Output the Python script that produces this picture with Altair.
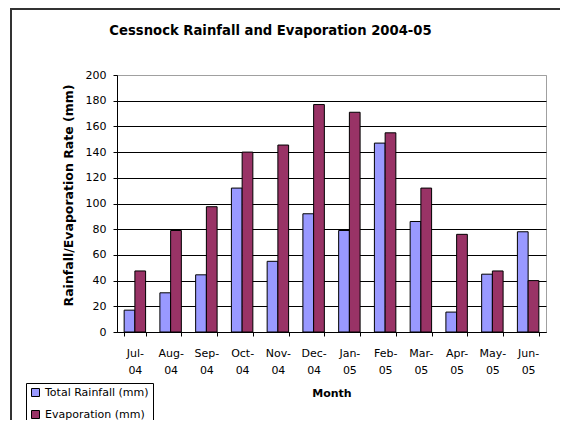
import altair as alt
import pandas as pd

months = ["Jul-04", "Aug-04", "Sep-04", "Oct-04", "Nov-04", "Dec-04",
          "Jan-05", "Feb-05", "Mar-05", "Apr-05", "May-05", "Jun-05"]
rainfall = [17, 30.5, 44.5, 112, 55, 92, 79, 147, 86, 15.5, 45, 78]
evaporation = [47.5, 79, 97.5, 140, 145.5, 177, 171, 155, 112, 76, 47.5, 40]
series = ["Total Rainfall (mm)", "Evaporation (mm)"]
colors = ["#9999FF", "#993366"]
y_ticks = [0, 20, 40, 60, 80, 100, 120, 140, 160, 180, 200]
title_text = "Cessnock Rainfall and Evaporation 2004-05"

rows = []
for i, m in enumerate(months):
    rows.append({"Month": m, "Series": series[0], "Value": rainfall[i]})
    rows.append({"Month": m, "Series": series[1], "Value": evaporation[i]})
df = pd.DataFrame(rows)

FONT = "DejaVu Sans"

bars = alt.Chart(df).mark_bar(stroke="black", strokeWidth=1).encode(
    x=alt.X("Month:N", sort=months,
            scale=alt.Scale(paddingInner=0.4, paddingOuter=0.2),
            axis=alt.Axis(
                title="Month", titleFontWeight="bold", titleFontSize=11,
                titleY=61, titleBaseline="middle",
                labelAngle=0, labelFontSize=11, labelPadding=11,
                labelLineHeight=17,
                labelExpr="[substring(datum.label,0,4), substring(datum.label,4)]",
                tickBand="extent", tickSize=4, tickColor="black",
                domainColor="black", labelColor="black", titleColor="black")),
    xOffset=alt.XOffset("Series:N", sort=series,
                        scale=alt.Scale(paddingInner=0, paddingOuter=0)),
    y=alt.Y("Value:Q", scale=alt.Scale(domain=[0, 200], nice=False),
            axis=alt.Axis(
                values=y_ticks, title="Rainfall/Evaporation Rate (mm)",
                titleFontWeight="bold", titleFontSize=12.5,
                titleX=-49, titleY=120, titleBaseline="middle",
                labelFontSize=11, labelPadding=7, tickSize=4,
                tickColor="black", domainColor="black",
                labelColor="black", titleColor="black",
                grid=True,
                gridColor={"condition": {"test": "datum.value === 200", "value": "#a0a0a0"},
                           "value": "black"},
                gridWidth=1)),
    color=alt.Color("Series:N", sort=series,
                    scale=alt.Scale(domain=series, range=colors),
                    legend=alt.Legend(
                        title=None, orient="none", legendX=-91, legendY=308,
                        symbolType="square", symbolSize=64,
                        symbolStrokeColor="black", symbolStrokeWidth=1,
                        labelFontSize=11, labelColor="black", labelOffset=4,
                        rowPadding=9, padding=4,
                        strokeColor="black", fillColor="white")),
)

one = pd.DataFrame({"a": [0]})
frame_top = alt.Chart(one).mark_rule(stroke="#333333", strokeWidth=2).encode(
    x=alt.value(-107), x2=alt.value(600), y=alt.value(-66))
frame_left = alt.Chart(one).mark_rule(stroke="#333333", strokeWidth=2).encode(
    x=alt.value(-106), y=alt.value(-67), y2=alt.value(500))

title = alt.Chart(pd.DataFrame({"t": [title_text]})).mark_text(
    font="DejaVu Sans", fontSize=13.2, fontWeight="bold", color="black",
    align="center", baseline="alphabetic"
).encode(text="t:N", x=alt.value(153.5), y=alt.value(-40))

chart = alt.layer(frame_top, frame_left, title, bars).properties(
    width=429, height=257,
    autosize=alt.AutoSizeParams(type="none"),
    padding={"left": 109, "top": 67, "right": 14, "bottom": 88},
).configure(font=FONT).configure_view(stroke="#a0a0a0", strokeWidth=1)

chart.save("out.html", embed_options={"renderer": "svg", "actions": False})
